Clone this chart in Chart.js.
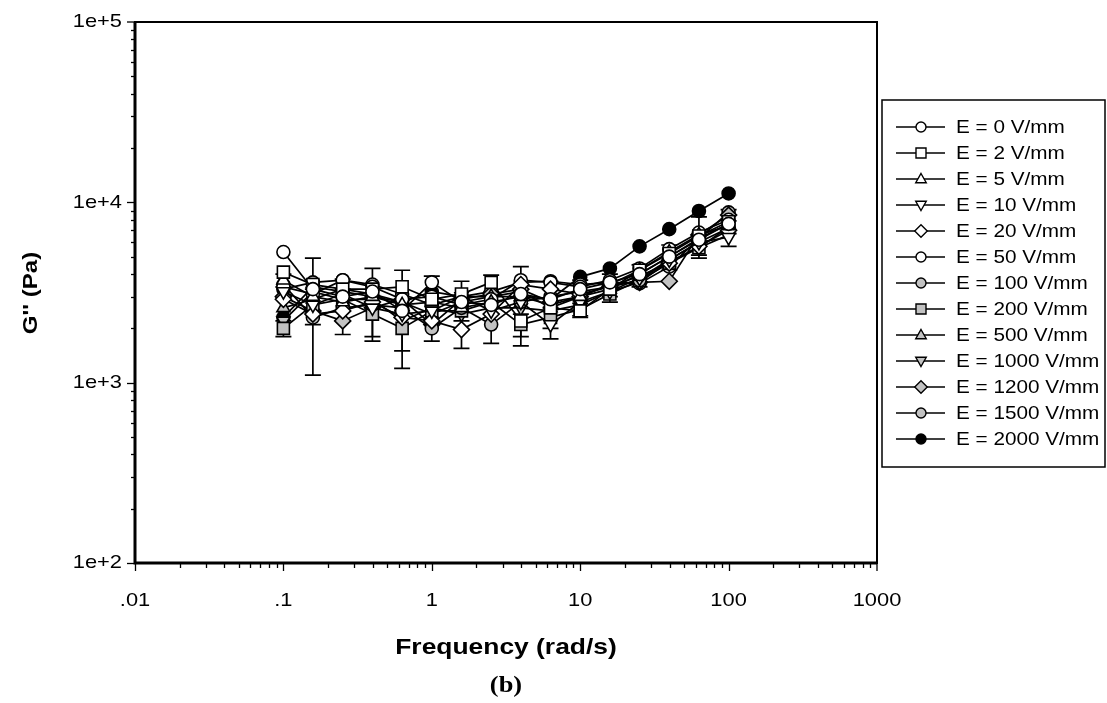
<!DOCTYPE html>
<html><head><meta charset="utf-8">
<script src="https://cdn.jsdelivr.net/npm/chart.js@4/dist/chart.umd.min.js"></script>
<style>html,body{margin:0;padding:0;background:#fff;}#wrap{width:1107px;height:703px;position:relative;}</style>
</head><body><div id="wrap"><canvas id="c" width="1107" height="703"></canvas></div>
<script>
// ---- data ----
const frequencies = [0.1, 0.158, 0.251, 0.398, 0.631, 1, 1.585, 2.512, 3.981, 6.31, 10, 15.85, 25.12, 39.81, 63.1, 100];
const seriesLabels = ['E = 0 V/mm','E = 2 V/mm','E = 5 V/mm','E = 10 V/mm','E = 20 V/mm','E = 50 V/mm','E = 100 V/mm','E = 200 V/mm','E = 500 V/mm','E = 1000 V/mm','E = 1200 V/mm','E = 1500 V/mm','E = 2000 V/mm'];
const gE0    = [5300, 3300, 3000, 3200, 2500, 3600, 2800, 2700, 3100, 2900, 3300, 3600, 4000, 5000, 6200, 7600];
const gE2    = [4100, 3500, 3300, 3300, 3400, 2900, 3100, 3600, 2200, 2600, 2500, 3300, 4200, 5200, 6500, 7800];
const gE5    = [3700, 3000, 2800, 3000, 2700, 2800, 2600, 2800, 3000, 2700, 3000, 3500, 4200, 5300, 6600, 7400];
const gE10   = [3200, 2700, 3100, 2600, 2400, 2500, 3000, 2500, 2800, 2100, 2800, 3200, 3800, 4800, 6000, 6400];
const gE20   = [2900, 2400, 2500, 2800, 2300, 2200, 1970, 2400, 3500, 3300, 3100, 3400, 3900, 4600, 5700, 7000];
const gE50   = [3400, 3100, 3700, 3400, 2900, 3000, 2700, 2900, 3700, 3600, 3400, 3700, 4300, 5500, 6800, 8000];
const gE100  = [3500, 2300, 2600, 2700, 2600, 2000, 2600, 2100, 2800, 3000, 3200, 3400, 3700, 4800, 6000, 7200];
const gE200  = [2000, 2700, 2900, 2400, 2000, 2500, 2500, 2800, 2100, 2300, 2550, 3100, 3700, 4600, 5600, 7300];
const gE500  = [2600, 2900, 3300, 3100, 2800, 2400, 2800, 3000, 3200, 2600, 3000, 3300, 4000, 5000, 6300, 7600];
const gE1000 = [2200, 3200, 2900, 2900, 2200, 2600, 2400, 2600, 2600, 2500, 2700, 3200, 3600, 4700, 5600, 6600];
const gE1200 = [3000, 2500, 2200, 2600, 2900, 2100, 2900, 3100, 3300, 2800, 3000, 3500, 3600, 3650, 6600, 8500];
const gE1500 = [3300, 3600, 3700, 3500, 3100, 2700, 3000, 3200, 3600, 3650, 3500, 3600, 3550, 4400, 6300, 8800];
const gE2000 = [2300, 3400, 3200, 3000, 2800, 3200, 3000, 3000, 3000, 2900, 3860, 4300, 5700, 7100, 8950, 11200];
const seriesValues = [gE0, gE2, gE5, gE10, gE20, gE50, gE100, gE200, gE500, gE1000, gE1200, gE1500, gE2000];
// error bars (± Pa)
const errE5   = [300, 1900, 950, 1300, 1500, 1100, 1050, 1150, 1400, 950, 700, 500, 300, 500, 1700, 1700];
const errE200 = [200, 600, 400, 600, 500, 300, 300, 400, 300, 300, 200, 300, 300, 400, 500, 600];
const errorSets = [{series: 2, err: errE5}, {series: 7, err: errE200}];
const xTickValues = [0.01, 0.1, 1, 10, 100, 1000];
const xTickLabels = ['.01', '.1', '1', '10', '100', '1000'];
const yTickValues = [100, 1000, 10000, 100000];
const yTickLabels = ['1e+2', '1e+3', '1e+4', '1e+5'];

// ---- styles ----
const GREY = '#c2c2c2';
const markerStyles = [
  {shape:'circle', fill:'#fff'}, {shape:'rect', fill:'#fff'}, {shape:'triangle', fill:'#fff'},
  {shape:'triangleDown', fill:'#fff'}, {shape:'diamond', fill:'#fff'}, {shape:'circle', fill:'#fff'},
  {shape:'circle', fill:GREY}, {shape:'rect', fill:GREY}, {shape:'triangle', fill:GREY},
  {shape:'triangleDown', fill:GREY}, {shape:'diamond', fill:GREY}, {shape:'circle', fill:GREY},
  {shape:'circle', fill:'#000'}
];
function cjsStyle(s){
  if (s.shape==='rect') return {pointStyle:'rect', rotation:0, radius:8.5};
  if (s.shape==='triangle') return {pointStyle:'triangle', rotation:0, radius:7.5};
  if (s.shape==='triangleDown') return {pointStyle:'triangle', rotation:180, radius:7.5};
  if (s.shape==='diamond') return {pointStyle:'rectRot', rotation:0, radius:8};
  return {pointStyle:'circle', rotation:0, radius:6.5};
}

const datasets = seriesValues.map((vals, k) => {
  const st = cjsStyle(markerStyles[k]);
  return {
    label: seriesLabels[k],
    data: vals.map((v, i) => ({x: frequencies[i], y: v})),
    borderColor: '#000', borderWidth: 1.7,
    pointStyle: st.pointStyle, pointRotation: st.rotation, pointRadius: st.radius,
    pointBackgroundColor: markerStyles[k].fill, pointBorderColor: '#000', pointBorderWidth: 1.6,
    tension: 0, fill: false
  };
});

function drawMarker(ctx, shape, x, y, r){
  ctx.beginPath();
  if (shape==='circle'){ ctx.arc(x, y, r, 0, Math.PI*2); }
  else if (shape==='rect'){ ctx.rect(x-r, y-r, 2*r, 2*r); }
  else if (shape==='triangle'){ ctx.moveTo(x, y-r*1.1); ctx.lineTo(x+r*1.05, y+r*0.75); ctx.lineTo(x-r*1.05, y+r*0.75); ctx.closePath(); }
  else if (shape==='triangleDown'){ ctx.moveTo(x, y+r*1.1); ctx.lineTo(x+r*1.05, y-r*0.75); ctx.lineTo(x-r*1.05, y-r*0.75); ctx.closePath(); }
  else if (shape==='diamond'){ ctx.moveTo(x, y-r*1.25); ctx.lineTo(x+r*1.25, y); ctx.lineTo(x, y+r*1.25); ctx.lineTo(x-r*1.25, y); ctx.closePath(); }
  ctx.fill(); ctx.stroke();
}
function stretchText(ctx, txt, x, y, sx, align){
  ctx.save(); ctx.translate(x, y); ctx.scale(sx, 1); ctx.textAlign = align; ctx.fillText(txt, 0, 0); ctx.restore();
}

const decor = {
  id: 'decor',
  beforeDatasetsDraw(chart){
    const {ctx, scales:{x, y}} = chart;
    ctx.save(); ctx.strokeStyle = '#000'; ctx.lineWidth = 1.7;
    errorSets.forEach(es => {
      const vals = seriesValues[es.series];
      vals.forEach((v, i) => {
        const e = es.err[i];
        const px = x.getPixelForValue(frequencies[i]);
        const pt = y.getPixelForValue(v + e), pb = y.getPixelForValue(Math.max(v - e, 1));
        ctx.beginPath();
        ctx.moveTo(px, pt); ctx.lineTo(px, pb);
        ctx.moveTo(px - 8, pt); ctx.lineTo(px + 8, pt);
        ctx.moveTo(px - 8, pb); ctx.lineTo(px + 8, pb);
        ctx.stroke();
      });
    });
    ctx.restore();
  },
  afterDraw(chart){
    const {ctx, chartArea:a, scales:{x, y}} = chart;
    ctx.save();
    ctx.strokeStyle = '#000'; ctx.fillStyle = '#000';
    // frame
    ctx.lineWidth = 2;
    ctx.strokeRect(a.left, a.top, a.right - a.left, a.bottom - a.top);
    ctx.lineWidth = 3;
    ctx.beginPath(); ctx.moveTo(a.left, a.top); ctx.lineTo(a.left, a.bottom); ctx.lineTo(a.right, a.bottom); ctx.stroke();
    // y ticks
    ctx.lineWidth = 1.3;
    for (let d = 2; d < 5; d++){
      for (let m = 1; m < 10; m++){
        const v = m * Math.pow(10, d);
        const py = Math.round(y.getPixelForValue(v)) + 0.5;
        ctx.beginPath(); ctx.moveTo(a.left, py); ctx.lineTo(a.left - (m === 1 ? 8 : 4), py); ctx.stroke();
      }
    }
    ctx.beginPath(); ctx.moveTo(a.left, a.top); ctx.lineTo(a.left - 8, a.top); ctx.stroke();
    // x ticks
    for (let d = -2; d < 3; d++){
      for (let m = 1; m < 10; m++){
        const v = m * Math.pow(10, d);
        const px = Math.round(x.getPixelForValue(v)) + 0.5;
        ctx.beginPath(); ctx.moveTo(px, a.bottom); ctx.lineTo(px, a.bottom + (m === 1 ? 8 : 5)); ctx.stroke();
      }
    }
    { const px = a.right; ctx.beginPath(); ctx.moveTo(px, a.bottom); ctx.lineTo(px, a.bottom + 8); ctx.stroke(); }
    // tick labels
    ctx.font = '19px "Liberation Sans", Arial, sans-serif';
    ctx.textBaseline = 'middle';
    yTickValues.forEach((v, i) => stretchText(ctx, yTickLabels[i], 122, y.getPixelForValue(v), 1.15, 'right'));
    xTickValues.forEach((v, i) => stretchText(ctx, xTickLabels[i], x.getPixelForValue(v), 601, 1.15, 'center'));
    // axis titles
    ctx.font = 'bold 21px "Liberation Sans", Arial, sans-serif';
    ctx.save(); ctx.translate(31, 293); ctx.rotate(-Math.PI/2); ctx.scale(1.15, 1); ctx.textAlign = 'center'; ctx.fillText("G'' (Pa)", 0, 0); ctx.restore();
    ctx.font = 'bold 22px "Liberation Sans", Arial, sans-serif';
    stretchText(ctx, 'Frequency (rad/s)', (a.left + a.right)/2, 648, 1.2, 'center');
    ctx.font = 'bold 24px "Liberation Serif", "Times New Roman", serif';
    stretchText(ctx, '(b)', (a.left + a.right)/2, 686, 1.1, 'center');
    // legend
    ctx.lineWidth = 1.5;
    ctx.strokeRect(882, 100, 223, 367);
    ctx.font = '18px "Liberation Sans", Arial, sans-serif';
    seriesLabels.forEach((lab, k) => {
      const ly = 127 + k * 26;
      ctx.strokeStyle = '#000'; ctx.lineWidth = 1.4;
      ctx.beginPath(); ctx.moveTo(896, ly); ctx.lineTo(945, ly); ctx.stroke();
      ctx.fillStyle = markerStyles[k].fill;
      drawMarker(ctx, markerStyles[k].shape, 921, ly, 5);
      ctx.fillStyle = '#000';
      stretchText(ctx, lab, 956, ly + 1, 1.15, 'left');
    });
    ctx.restore();
  }
};

new Chart(document.getElementById('c'), {
  type: 'line',
  data: { datasets },
  options: {
    responsive: false, animation: false, devicePixelRatio: 1,
    layout: { padding: { left: 135, right: 230, top: 22, bottom: 140 } },
    plugins: { legend: { display: false }, tooltip: { enabled: false } },
    scales: {
      x: { type: 'logarithmic', min: 0.01, max: 1000, display: false },
      y: { type: 'logarithmic', min: 100, max: 100000, display: false }
    }
  },
  plugins: [decor]
});
</script></body></html>
